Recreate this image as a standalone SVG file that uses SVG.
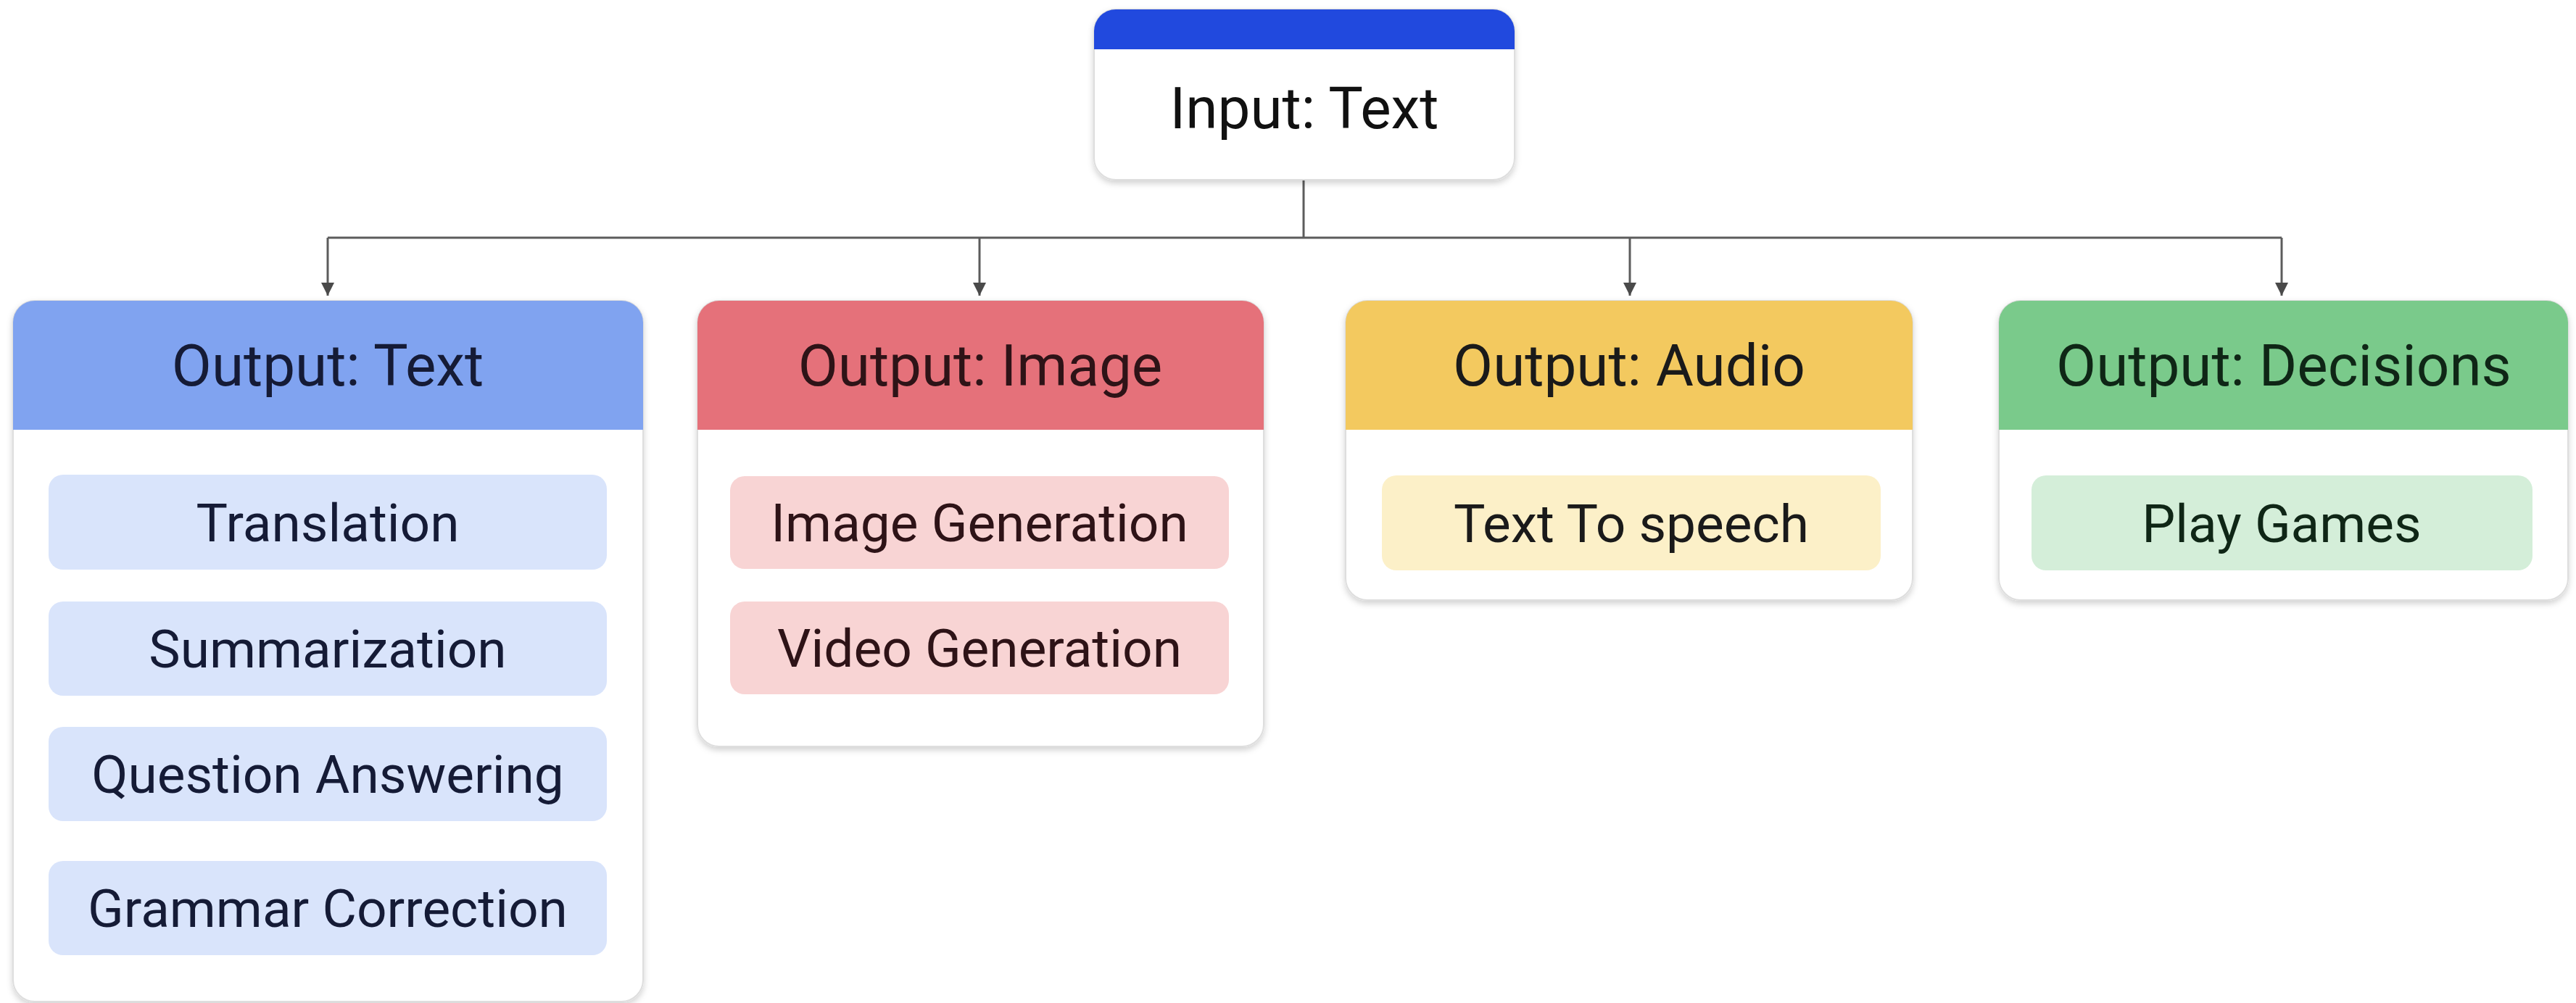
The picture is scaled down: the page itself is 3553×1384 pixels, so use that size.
<svg xmlns="http://www.w3.org/2000/svg" width="3553" height="1384" viewBox="0 0 3553 1384">
  <style>
    .box { fill: #ffffff; stroke: #dedede; stroke-width: 2; filter: url(#shadow); }
    .conn { fill: none; stroke: #5c5c5c; stroke-width: 3; }
    .hd { font-family: Roboto, "Noto Sans", "Liberation Sans", sans-serif; font-size: 80px; text-anchor: middle; }
    .it { font-family: Roboto, "Noto Sans", "Liberation Sans", sans-serif; font-size: 73px; text-anchor: middle; }
    .t-text { fill: #151b36; }
    .t-img { fill: #2e1317; }
    .t-aud { fill: #1a1a1a; }
    .t-dec { fill: #0f2616; }
    .i-text { fill: #d9e4fb; }
    .i-img { fill: #f8d4d4; }
    .i-aud { fill: #fcf0c8; }
    .i-dec { fill: #d4eed9; }
  </style>
  <defs>
    <filter id="shadow" x="-5%" y="-5%" width="110%" height="115%">
      <feDropShadow dx="0" dy="4" stdDeviation="4" flood-color="#000000" flood-opacity="0.18"/>
    </filter>
    <marker id="arrow" viewBox="0 0 10 10" refX="10" refY="5" markerWidth="22" markerHeight="18" markerUnits="userSpaceOnUse" orient="auto">
      <path d="M0,0 L10,5 L0,10 z" fill="#4a4a4a"/>
    </marker>
  </defs>
  <rect width="3553" height="1384" fill="#ffffff"/>

  <g id="connectors">
    <path class="conn" d="M1798,248 V328"/>
    <path class="conn" d="M452,328 H3147"/>
    <path class="conn" d="M452,328 V408" marker-end="url(#arrow)"/>
    <path class="conn" d="M1351,328 V408" marker-end="url(#arrow)"/>
    <path class="conn" d="M2248,328 V408" marker-end="url(#arrow)"/>
    <path class="conn" d="M3147,328 V408" marker-end="url(#arrow)"/>
  </g>

  <g id="input-text">
    <rect class="box" x="1509" y="13" width="580" height="235" rx="30"/>
    <path d="M1509,68 V43 A30,30 0 0 1 1539,13 H2059 A30,30 0 0 1 2089,43 V68 Z" fill="#2149de"/>
    <text class="hd" x="1799" y="177" fill="#111111">Input: Text</text>
  </g>

  <g id="output-text">
    <rect class="box" x="18" y="415" width="869" height="967" rx="30"/>
    <path d="M18,593 V445 A30,30 0 0 1 48,415 H857 A30,30 0 0 1 887,445 V593 Z" fill="#80a3f0"/>
    <text class="hd t-text" x="452" y="532">Output: Text</text>
    <rect class="i-text" x="67" y="655" width="770" height="131" rx="20"/>
    <text class="it t-text" x="452" y="747">Translation</text>
    <rect class="i-text" x="67" y="830" width="770" height="130" rx="20"/>
    <text class="it t-text" x="452" y="921">Summarization</text>
    <rect class="i-text" x="67" y="1003" width="770" height="130" rx="20"/>
    <text class="it t-text" x="452" y="1094">Question Answering</text>
    <rect class="i-text" x="67" y="1188" width="770" height="130" rx="20"/>
    <text class="it t-text" x="452" y="1279">Grammar Correction</text>
  </g>

  <g id="output-image">
    <rect class="box" x="962" y="415" width="781" height="615" rx="30"/>
    <path d="M962,593 V445 A30,30 0 0 1 992,415 H1713 A30,30 0 0 1 1743,445 V593 Z" fill="#e5717a"/>
    <text class="hd t-img" x="1352" y="532">Output: Image</text>
    <rect class="i-img" x="1007" y="657" width="688" height="128" rx="20"/>
    <text class="it t-img" x="1351" y="747">Image Generation</text>
    <rect class="i-img" x="1007" y="830" width="688" height="128" rx="20"/>
    <text class="it t-img" x="1351" y="920">Video Generation</text>
  </g>

  <g id="output-audio">
    <rect class="box" x="1856" y="415" width="782" height="413" rx="30"/>
    <path d="M1856,593 V445 A30,30 0 0 1 1886,415 H2608 A30,30 0 0 1 2638,445 V593 Z" fill="#f3c95f"/>
    <text class="hd t-aud" x="2247" y="532">Output: Audio</text>
    <rect class="i-aud" x="1906" y="656" width="688" height="131" rx="20"/>
    <text class="it t-aud" x="2250" y="748">Text To speech</text>
  </g>

  <g id="output-decisions">
    <rect class="box" x="2757" y="415" width="785" height="413" rx="30"/>
    <path d="M2757,593 V445 A30,30 0 0 1 2787,415 H3512 A30,30 0 0 1 3542,445 V593 Z" fill="#7aca8b"/>
    <text class="hd t-dec" x="3150" y="532">Output: Decisions</text>
    <rect class="i-dec" x="2802" y="656" width="691" height="131" rx="20"/>
    <text class="it t-dec" x="3147" y="748">Play Games</text>
  </g>
</svg>
